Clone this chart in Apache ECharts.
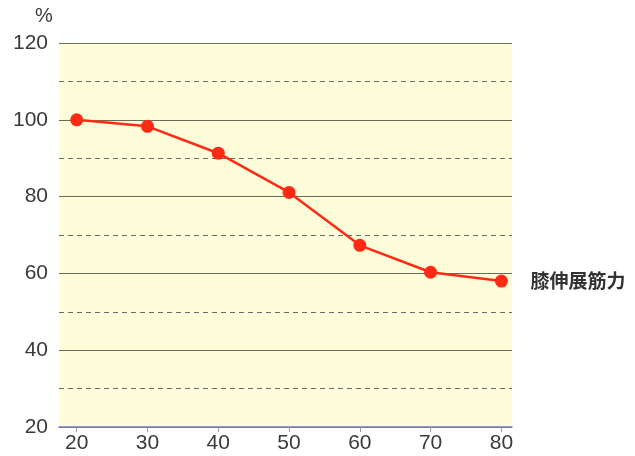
<!DOCTYPE html>
<html>
<head>
<meta charset="utf-8">
<script src="https://cdn.jsdelivr.net/npm/echarts@6/dist/echarts.min.js"></script>
<style>html,body{margin:0;padding:0;background:#fff;}#c{width:635px;height:456px;}</style>
</head>
<body>
<div id="c"></div>
<script>
const ages = [20, 30, 40, 50, 60, 70, 80];
const strength = [100, 98.3, 91.3, 81.1, 67.3, 60.3, 58.0];
const xTicks = [20, 30, 40, 50, 60, 70, 80];
const seriesName = '膝伸展筋力';
const unitLabel = '%';

const chart = echarts.init(document.getElementById('c'));
chart.setOption({
  animation: false,
  grid: { left: 59, right: 123, top: 43, bottom: 29, show: true, backgroundColor: '#fdfdd9', borderWidth: 0 },
  graphic: [{ type: 'text', left: 35, top: 6, style: { text: unitLabel, font: '20px "Liberation Sans", Arial, sans-serif', fill: '#3a3a3a' } }],
  xAxis: {
    type: 'value', min: 17.5, max: 81.5,
    axisLine: { show: true, lineStyle: { color: '#7a78c8', width: 1.5 } },
    axisTick: { show: true, customValues: xTicks, length: 5, lineStyle: { color: '#999' } },
    axisLabel: { customValues: xTicks, color: '#3a3a3a', fontSize: 21, margin: 6, fontFamily: '"Liberation Sans", Arial, sans-serif' },
    splitLine: { show: false }
  },
  yAxis: {
    type: 'value', min: 20, max: 120, interval: 20,
    axisLine: { show: false }, axisTick: { show: false },
    axisLabel: { color: '#3a3a3a', fontSize: 21, margin: 11, fontFamily: '"Liberation Sans", Arial, sans-serif' },
    splitLine: { show: true, lineStyle: { color: '#6e6a5a', width: 1 } },
    minorTick: { show: false, splitNumber: 2 },
    minorSplitLine: { show: true, lineStyle: { color: '#6a6a70', type: [5, 4], width: 1 } }
  },
  series: [{
    type: 'line', name: seriesName,
    data: ages.map((a, i) => [a, strength[i]]),
    symbol: 'circle', symbolSize: 13,
    itemStyle: { color: '#ff2a14' },
    lineStyle: { color: '#ff2a14', width: 2.5 },
    endLabel: { show: true, formatter: seriesName, distance: 29, color: '#333', fontSize: 19, fontWeight: 'bold', fontFamily: '"Noto Sans CJK JP", sans-serif' }
  }]
});
</script>
</body>
</html>
